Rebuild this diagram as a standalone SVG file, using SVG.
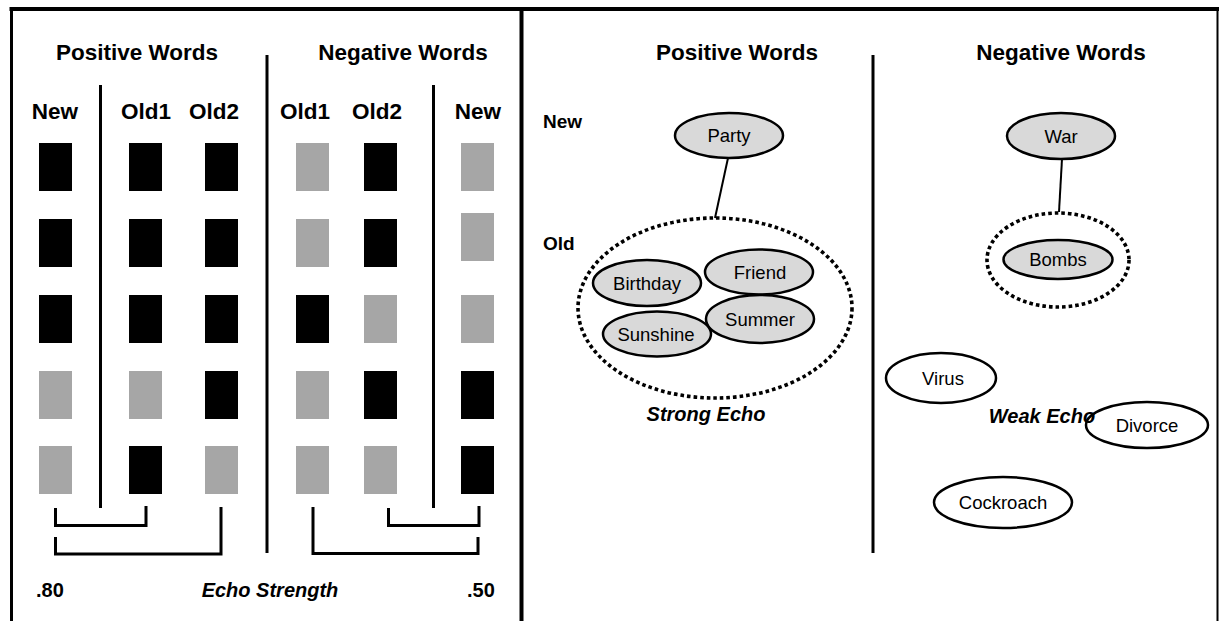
<svg xmlns="http://www.w3.org/2000/svg" width="1219" height="621" viewBox="0 0 1219 621">
<style>
text{font-family:"Liberation Sans",Arial,sans-serif;fill:#000}
.title{font-size:22.5px;font-weight:bold;text-anchor:middle}
.col{font-size:22.5px;font-weight:bold;text-anchor:middle}
.lvl{font-size:19px;font-weight:bold}
.lab{font-size:18.5px;text-anchor:middle}
.echo{font-size:20px;font-weight:bold;font-style:italic;text-anchor:middle}
.num{font-size:20px;font-weight:bold}
.rule{stroke:#000;stroke-width:3;fill:none}
.brk{stroke:#000;stroke-width:3;fill:none;stroke-linejoin:miter}
.b{fill:#000}
.g{fill:#a6a6a6}
.node{stroke:#000;stroke-width:2.5;fill:#d9d9d9}
.wnode{stroke:#000;stroke-width:2.5;fill:#fff}
.dot{stroke:#000;stroke-width:3.6;fill:none;stroke-dasharray:3.6 3}
.conn{stroke:#000;stroke-width:2;fill:none}
</style>
<rect width="1219" height="621" fill="#fff"/>
<g id="frame">
<line x1="9.5" y1="9" x2="1219" y2="9" stroke="#000" stroke-width="4"/>
<line x1="11.5" y1="7" x2="11.5" y2="621" stroke="#000" stroke-width="3"/>
<line x1="521.5" y1="7" x2="521.5" y2="621" stroke="#000" stroke-width="4"/>
<line x1="1217.5" y1="7" x2="1217.5" y2="621" stroke="#000" stroke-width="2"/>
</g>
<g id="left-panel">
<text class="title" x="137" y="60">Positive Words</text>
<text class="title" x="403" y="60">Negative Words</text>
<line class="rule" x1="267" y1="55" x2="267" y2="553"/>
<line class="rule" x1="100.5" y1="85" x2="100.5" y2="508"/>
<line class="rule" x1="433.5" y1="85" x2="433.5" y2="508"/>
<text class="col" x="55" y="119">New</text>
<text class="col" x="146" y="119">Old1</text>
<text class="col" x="214" y="119">Old2</text>
<text class="col" x="305" y="119">Old1</text>
<text class="col" x="377" y="119">Old2</text>
<text class="col" x="478" y="119">New</text>
<g id="squares">
<rect class="b" x="39" y="143" width="33" height="48"/>
<rect class="b" x="129" y="143" width="33" height="48"/>
<rect class="b" x="205" y="143" width="33" height="48"/>
<rect class="g" x="296" y="143" width="33" height="48"/>
<rect class="b" x="364" y="143" width="33" height="48"/>
<rect class="g" x="461" y="143" width="33" height="48"/>
<rect class="b" x="39" y="219" width="33" height="48"/>
<rect class="b" x="129" y="219" width="33" height="48"/>
<rect class="b" x="205" y="219" width="33" height="48"/>
<rect class="g" x="296" y="219" width="33" height="48"/>
<rect class="b" x="364" y="219" width="33" height="48"/>
<rect class="g" x="461" y="213" width="33" height="48"/>
<rect class="b" x="39" y="295" width="33" height="48"/>
<rect class="b" x="129" y="295" width="33" height="48"/>
<rect class="b" x="205" y="295" width="33" height="48"/>
<rect class="b" x="296" y="295" width="33" height="48"/>
<rect class="g" x="364" y="295" width="33" height="48"/>
<rect class="g" x="461" y="295" width="33" height="48"/>
<rect class="g" x="39" y="371" width="33" height="48"/>
<rect class="g" x="129" y="371" width="33" height="48"/>
<rect class="b" x="205" y="371" width="33" height="48"/>
<rect class="g" x="296" y="371" width="33" height="48"/>
<rect class="b" x="364" y="371" width="33" height="48"/>
<rect class="b" x="461" y="371" width="33" height="48"/>
<rect class="g" x="39" y="446" width="33" height="48"/>
<rect class="b" x="129" y="446" width="33" height="48"/>
<rect class="g" x="205" y="446" width="33" height="48"/>
<rect class="g" x="296" y="446" width="33" height="48"/>
<rect class="g" x="364" y="446" width="33" height="48"/>
<rect class="b" x="461" y="446" width="33" height="48"/>
</g>
<g id="brackets">
<polyline class="brk" points="55.5,508 55.5,525.5 146,525.5 146,506"/>
<polyline class="brk" points="55.5,537 55.5,554 221,554 221,507"/>
<polyline class="brk" points="313,507 313,553.5 478,553.5 478,537"/>
<polyline class="brk" points="388.5,508 388.5,525.5 479,525.5 479,506"/>
</g>
<text class="num" x="36" y="597">.80</text>
<text class="echo" x="270" y="597">Echo Strength</text>
<text class="num" x="467" y="597">.50</text>
</g>
<g id="right-panel">
<text class="title" x="737" y="60">Positive Words</text>
<text class="title" x="1061" y="60">Negative Words</text>
<line class="rule" x1="873" y1="55" x2="873" y2="553"/>
<text class="lvl" x="543" y="128">New</text>
<text class="lvl" x="543" y="250">Old</text>
</g>
<g id="connectors">
<line class="conn" x1="728" y1="158" x2="715" y2="218"/>
<line class="conn" x1="1062" y1="159" x2="1059" y2="212"/>
</g>
<g id="strong-echo-group">
<ellipse class="dot" cx="715" cy="308" rx="137" ry="90"/>
<text class="echo" x="706" y="421">Strong Echo</text>
</g>
<g id="weak-echo-group">
<ellipse class="dot" cx="1058" cy="260" rx="71" ry="47"/>
</g>
<g id="party"><ellipse class="node" cx="729" cy="135.5" rx="54" ry="22.5"/><text class="lab" x="729" y="142">Party</text></g>
<g id="war"><ellipse class="node" cx="1061" cy="136" rx="54" ry="23"/><text class="lab" x="1061" y="142.5">War</text></g>
<g id="birthday"><ellipse class="node" cx="647" cy="283" rx="54" ry="23"/><text class="lab" x="647" y="290">Birthday</text></g>
<g id="friend"><ellipse class="node" cx="759" cy="272" rx="54" ry="22.5"/><text class="lab" x="760" y="279">Friend</text></g>
<g id="summer"><ellipse class="node" cx="760" cy="319" rx="54" ry="24"/><text class="lab" x="760" y="326">Summer</text></g>
<g id="sunshine"><ellipse class="node" cx="657" cy="334" rx="54" ry="22.5"/><text class="lab" x="656" y="340.5">Sunshine</text></g>
<g id="bombs"><ellipse class="node" cx="1058" cy="259.5" rx="54.5" ry="19.5"/><text class="lab" x="1058" y="266">Bombs</text></g>
<g id="virus"><ellipse class="wnode" cx="941" cy="378" rx="55" ry="25"/><text class="lab" x="943" y="385">Virus</text></g>
<g id="divorce"><ellipse class="wnode" cx="1147" cy="425" rx="61" ry="23"/><text class="lab" x="1147" y="432">Divorce</text></g>
<g id="cockroach"><ellipse class="wnode" cx="1003" cy="502.5" rx="69" ry="25.5"/><text class="lab" x="1003" y="509">Cockroach</text></g>
<g id="weak-echo-label"><text class="echo" x="1042" y="423">Weak Echo</text></g>
</svg>
